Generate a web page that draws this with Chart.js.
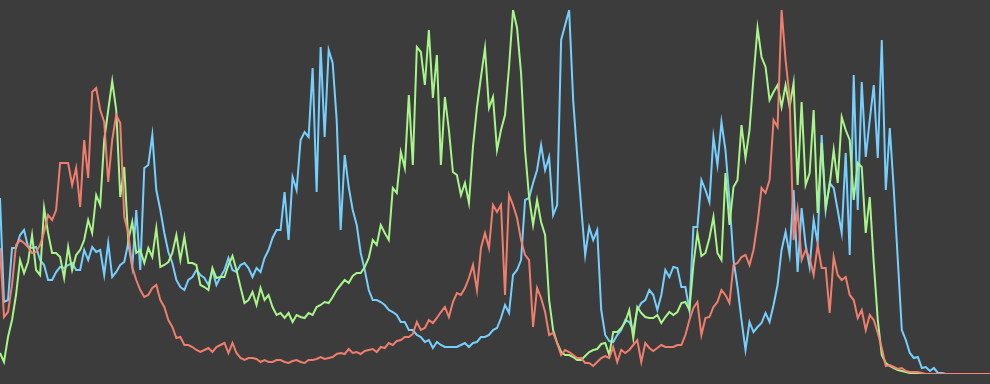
<!DOCTYPE html>
<html lang="en">
<head>
    <meta charset="UTF-8">
    <title>Three Waves</title>
    <script src="https://cdn.jsdelivr.net/npm/chart.js"></script>
    <style>
        body {
            background: #3c3c3c;
            margin: 0;
            padding: 0;
            overflow: hidden;
        }
        .chart-container {
            width: 990px;
            height: 384px;
        }
    </style>
</head>
<body>
    <div class="chart-container">
        <canvas id="waveChart"></canvas>
    </div>
    <script>
        // one point per week, each series scaled to its own peak (364)
        const weeks = Array.from({ length: 248 }, (_, i) => i + 1);

        const blueSeries = [
            176, 72, 74, 126, 126, 139, 144, 127, 126, 127, 114, 109, 94, 94, 102, 107, 106, 109, 111, 104, 104, 124, 114, 127, 122,
            124, 99, 131, 97, 102, 109, 112, 131, 107, 164, 104, 206, 209, 239, 184, 164, 141, 122, 111, 94, 87, 84, 94, 97, 104,
            99, 96, 89, 104, 89, 97, 104, 116, 104, 102, 109, 111, 106, 97, 106, 102, 116, 124, 136, 144, 144, 182, 134, 197, 184,
            234, 242, 237, 306, 182, 327, 237, 324, 311, 254, 144, 219, 187, 164, 149, 121, 104, 84, 74, 74, 72, 69, 64, 62, 59,
            52, 52, 44, 44, 39, 37, 32, 34, 26, 32, 29, 27, 27, 27, 27, 29, 31, 27, 31, 32, 37, 37, 39, 44, 46,
            56, 69, 61, 99, 104, 114, 174, 176, 191, 204, 229, 204, 217, 159, 169, 334, 349, 364, 274, 219, 167, 119, 147, 134, 144,
            64, 39, 33, 32, 39, 44, 54, 52, 44, 64, 71, 74, 84, 79, 64, 79, 104, 97, 107, 106, 87, 87, 64, 147, 147,
            194, 184, 172, 237, 209, 252, 224, 174, 114, 87, 54, 24, 52, 42, 47, 51, 61, 52, 69, 89, 124, 142, 119, 184, 102,
            166, 129, 107, 154, 131, 239, 164, 191, 186, 164, 141, 221, 119, 299, 164, 292, 217, 254, 289, 216, 334, 184, 246, 184, 114,
            44, 34, 21, 16, 17, 6, 7, 3, 6, 1, 1, 0, 0, 0, 0, 0, 0, 0, 0, 0, 0, 0, 0
        ];

        const greenSeries = [
            21, 12, 37, 54, 79, 114, 101, 112, 139, 104, 99, 166, 141, 121, 121, 117, 96, 127, 104, 119, 124, 134, 154, 141, 179,
            169, 234, 264, 293, 264, 177, 207, 134, 152, 121, 124, 111, 126, 117, 146, 107, 109, 112, 121, 139, 114, 137, 111, 111, 109,
            89, 87, 84, 106, 96, 97, 97, 109, 118, 104, 87, 71, 74, 82, 69, 86, 74, 79, 67, 59, 61, 56, 61, 52, 59,
            57, 56, 61, 59, 67, 69, 72, 71, 77, 84, 89, 94, 91, 98, 101, 101, 107, 116, 134, 129, 149, 141, 134, 186, 181,
            222, 206, 279, 209, 327, 322, 289, 344, 276, 319, 209, 277, 244, 202, 199, 179, 191, 171, 227, 267, 297, 326, 266, 277, 224,
            244, 259, 307, 364, 346, 301, 224, 177, 149, 174, 152, 139, 74, 44, 31, 22, 19, 19, 17, 14, 14, 18, 22, 24, 25,
            30, 31, 19, 42, 42, 46, 52, 64, 36, 67, 61, 57, 56, 56, 59, 51, 57, 62, 59, 62, 71, 72, 64, 109, 141,
            118, 121, 136, 157, 121, 114, 201, 149, 187, 194, 249, 216, 244, 297, 346, 317, 307, 274, 282, 289, 267, 289, 267, 291, 189,
            272, 189, 201, 264, 161, 231, 167, 189, 224, 191, 257, 244, 234, 174, 211, 207, 141, 177, 111, 54, 19, 11, 8, 6, 4,
            3, 2, 1, 0, 0, 0, 0, 0, 0, 0, 0, 0, 0, 0, 0, 0, 0, 0, 0, 0, 0, 0, 0
        ];

        const redSeries = [
            126, 57, 62, 89, 129, 134, 131, 127, 121, 122, 129, 142, 159, 154, 164, 211, 211, 211, 189, 206, 167, 234, 196, 282, 286,
            264, 252, 192, 234, 259, 251, 157, 141, 107, 94, 84, 77, 79, 86, 89, 74, 67, 54, 47, 36, 37, 29, 29, 27, 24,
            22, 24, 26, 22, 27, 29, 31, 21, 31, 21, 16, 14, 16, 16, 15, 12, 14, 12, 12, 14, 14, 12, 11, 13, 14,
            12, 11, 14, 14, 15, 17, 15, 16, 17, 20, 21, 20, 25, 21, 22, 20, 23, 24, 25, 22, 27, 26, 31, 29, 33,
            34, 37, 37, 40, 52, 44, 46, 54, 51, 56, 62, 67, 57, 72, 81, 79, 86, 96, 109, 84, 126, 141, 126, 169, 162,
            169, 79, 179, 169, 156, 134, 119, 114, 47, 86, 76, 62, 39, 41, 31, 19, 24, 22, 19, 16, 16, 11, 11, 8, 12,
            16, 18, 16, 27, 12, 24, 21, 24, 29, 34, 12, 31, 26, 23, 26, 29, 27, 27, 27, 29, 29, 39, 54, 66, 72,
            39, 56, 57, 67, 72, 84, 79, 71, 109, 111, 117, 119, 109, 124, 151, 186, 181, 194, 254, 247, 364, 314, 277, 134, 164,
            114, 124, 116, 99, 129, 106, 106, 61, 117, 99, 94, 97, 79, 74, 56, 64, 44, 59, 54, 41, 26, 8, 9, 7, 5,
            6, 3, 2, 2, 2, 1, 0, 0, 0, 0, 0, 0, 0, 0, 0, 0, 0, 0, 0, 0, 0, 0, 0
        ];

        const ctx = document.getElementById('waveChart').getContext('2d');
        const chart = new Chart(ctx, {
            type: 'line',
            data: {
                labels: weeks,
                datasets: [
                    {
                        label: 'Red',
                        data: redSeries,
                        borderColor: 'rgba(250, 130, 112, 0.95)',
                        borderWidth: 2,
                        pointRadius: 0,
                        tension: 0,
                        fill: false
                    },
                    {
                        label: 'Green',
                        data: greenSeries,
                        borderColor: 'rgb(168, 245, 138)',
                        borderWidth: 2,
                        pointRadius: 0,
                        tension: 0,
                        fill: false
                    },
                    {
                        label: 'Blue',
                        data: blueSeries,
                        borderColor: 'rgb(118, 208, 255)',
                        borderWidth: 2,
                        pointRadius: 0,
                        tension: 0,
                        fill: false
                    }
                ]
            },
            options: {
                responsive: true,
                maintainAspectRatio: false,
                animation: false,
                layout: {
                    padding: { top: 10, bottom: 10, left: 0, right: 0 }
                },
                scales: {
                    x: { display: false },
                    y: { display: false, min: 0, max: 364 }
                },
                plugins: {
                    legend: { display: false },
                    tooltip: { enabled: false }
                }
            }
        });
    </script>
</body>
</html>
